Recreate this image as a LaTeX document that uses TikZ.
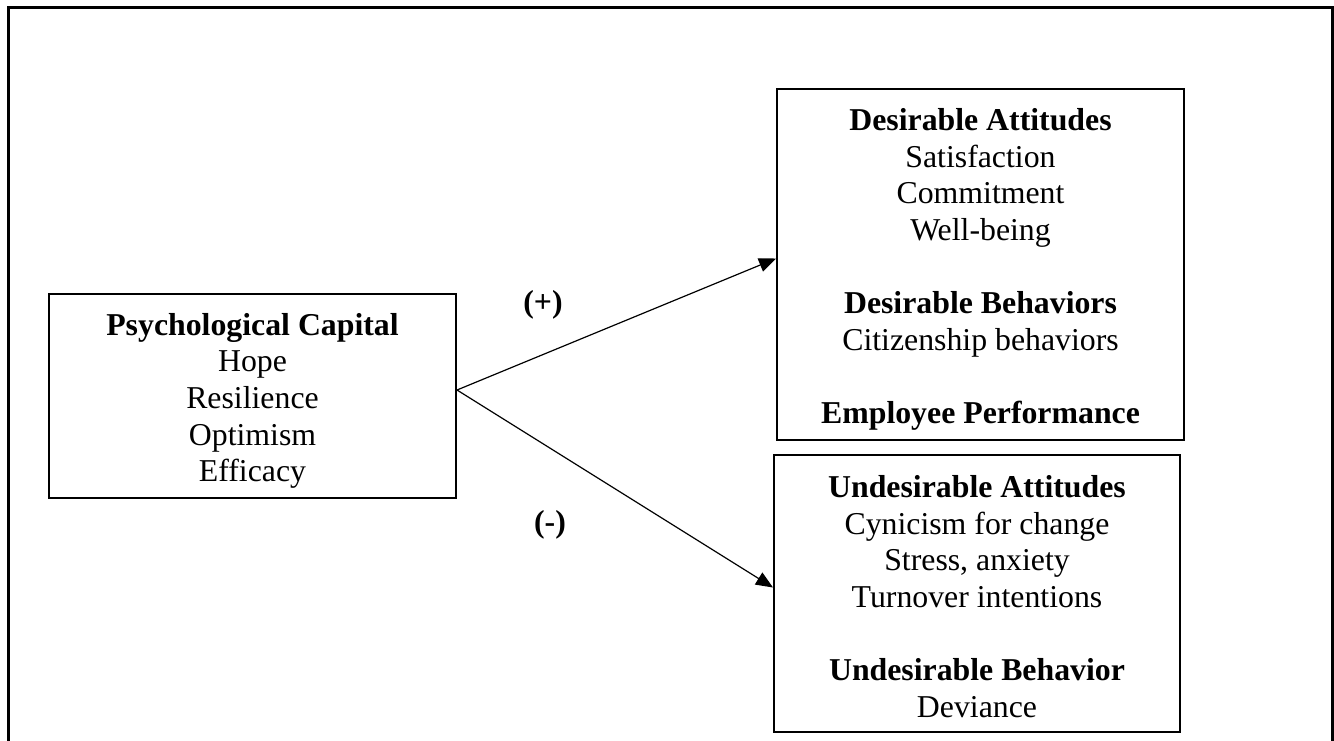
\documentclass[tikz,border=0pt]{standalone}
\usepackage{fontspec}
\setmainfont{Liberation Serif}
\usepackage{xcolor}
\usetikzlibrary{arrows.meta}
\definecolor{ink}{HTML}{000000}
\tikzset{
  box/.style={draw=ink,line width=1pt,align=center,inner sep=0pt,font=\fontsize{15.9pt}{18.3pt}\selectfont,text=ink},
  sign/.style={font=\fontsize{15.9pt}{18.3pt}\selectfont\bfseries,text=ink},
  flow/.style={-{Triangle[length=8.5pt,width=7pt]},line width=0.6pt,draw=ink},
  frame/.style={line width=1.5pt,draw=ink}
}
% pushes the first line of a box down a little
\newcommand{\topgap}[1]{\rule{0pt}{#1}}

\begin{document}
\begin{tikzpicture}[x=0.5pt,y=-0.5pt]
    \useasboundingbox (0,0) rectangle (1334,740);
    \draw[frame] (8,760) -- (8,7) -- (1332,7) -- (1332,760);
    \node[box,minimum width=203.5pt,minimum height=102pt] (pc) at (252.5,396)
      {\topgap{16pt}\textbf{Psychological Capital}\\Hope\\Resilience\\Optimism\\Efficacy};
    \node[box,minimum width=203.5pt,minimum height=175.5pt] (da) at (980.5,264.5)
      {\topgap{16pt}\textbf{Desirable Attitudes}\\Satisfaction\\Commitment\\Well-being\\[18.3pt]
       \textbf{Desirable Behaviors}\\Citizenship behaviors\\[18.3pt]
       \textbf{Employee Performance}};
    \node[box,minimum width=203pt,minimum height=138.5pt] (ua) at (977,593.5)
      {\topgap{14pt}\textbf{Undesirable Attitudes}\\Cynicism for change\\Stress, anxiety\\Turnover intentions\\[18.3pt]
       \textbf{Undesirable Behavior}\\Deviance};
    \node[sign] (plus) at (543,305) {(+)};
    \node[sign] (minus) at (550,525) {(-)};
    \draw[flow] ([yshift=3pt]pc.east) -- ([yshift=3pt]da.west);
    \draw[flow] ([yshift=3pt]pc.east) -- ([yshift=3pt]ua.west);
  \end{tikzpicture}
\end{document}
